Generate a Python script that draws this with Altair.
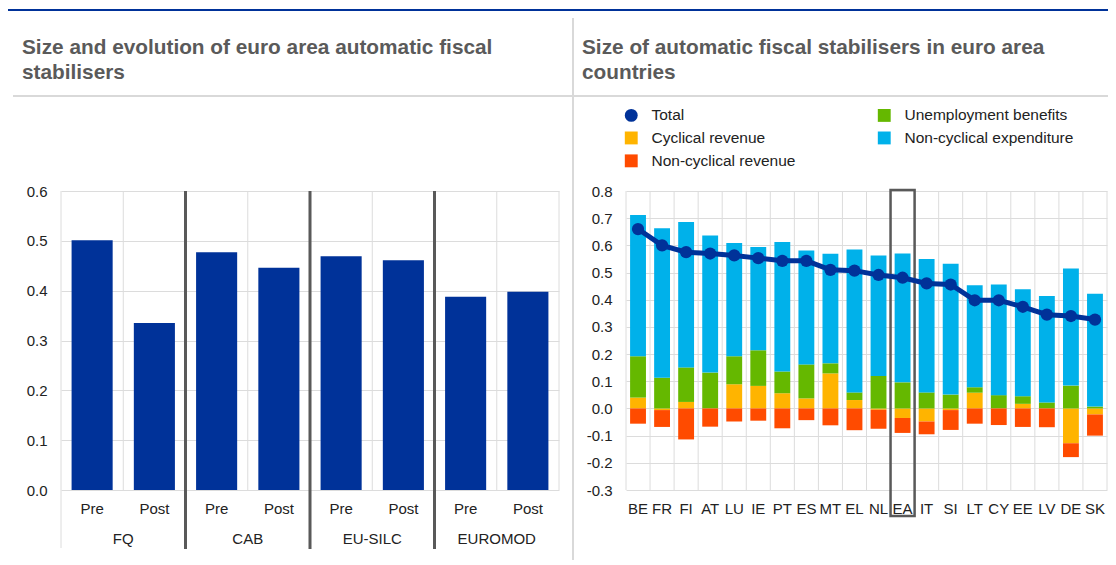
import altair as alt
import pandas as pd

# ---------------- data: left panel ----------------
methods = ["FQ", "CAB", "EU-SILC", "EUROMOD"]
phases = ["Pre", "Post"]
pre_values = [0.501, 0.477, 0.469, 0.388]
post_values = [0.335, 0.446, 0.461, 0.398]

# ---------------- data: right panel ----------------
countries = ["BE", "FR", "FI", "AT", "LU", "IE", "PT", "ES", "MT", "EL",
             "NL", "EA", "IT", "SI", "LT", "CY", "EE", "LV", "DE", "SK"]
total = [0.660, 0.600, 0.575, 0.570, 0.563, 0.553, 0.543, 0.543, 0.510, 0.507,
         0.491, 0.481, 0.460, 0.456, 0.398, 0.398, 0.374, 0.345, 0.340, 0.327]
cyclical_revenue = [0.040, -0.006, 0.024, 0.000, 0.089, 0.083, 0.056, 0.037, 0.129, 0.031,
                    -0.005, -0.035, -0.048, -0.006, 0.058, 0.000, 0.017, 0.000, -0.128, -0.022]
unemployment_benefits = [0.152, 0.113, 0.127, 0.132, 0.103, 0.131, 0.080, 0.125, 0.037, 0.028,
                         0.119, 0.096, 0.059, 0.051, 0.020, 0.049, 0.028, 0.022, 0.084, 0.007]
noncyclical_expenditure = [0.520, 0.550, 0.535, 0.504, 0.417, 0.380, 0.476, 0.419, 0.403, 0.526,
                           0.444, 0.474, 0.491, 0.481, 0.375, 0.407, 0.394, 0.392, 0.431, 0.415]
noncyclical_revenue = [-0.056, -0.062, -0.114, -0.067, -0.048, -0.045, -0.073, -0.043, -0.062, -0.080,
                       -0.070, -0.055, -0.047, -0.073, -0.056, -0.061, -0.068, -0.069, -0.051, -0.078]

# legend order (column-major, three rows)
series_names = ["Total", "Cyclical revenue", "Non-cyclical revenue",
                "Unemployment benefits", "Non-cyclical expenditure"]
series_colors = ["#003299", "#FFB400", "#FF4B00", "#65B800", "#00B1EA"]
series_shapes = ["circle", "square", "square", "square", "square"]

left_title = ["Size and evolution of euro area automatic fiscal", "stabilisers"]
right_title = ["Size of automatic fiscal stabilisers in euro area", "countries"]

left_ticks = [0.0, 0.1, 0.2, 0.3, 0.4, 0.5, 0.6]
right_ticks = [-0.3, -0.2, -0.1, 0.0, 0.1, 0.2, 0.3, 0.4, 0.5, 0.6, 0.7, 0.8]

# ---------------- styles ----------------
BLUE = "#003299"
GRID = "#dcdcdc"
SEP = "#d9d9d9"
DARK = "#595959"
TXT = "#222222"
TITLE = "#5a5a5a"
FONT = "Liberation Sans"
H = 299

# ---------------- tables ----------------
left_keys = [f"{m}|{p}" for m in methods for p in phases]
left_vals = [v for pair in zip(pre_values, post_values) for v in pair]
df_left = pd.DataFrame({"key": left_keys, "value": left_vals})
df_groups = pd.DataFrame({"method": methods, "key": [f"{m}|Pre" for m in methods]})
df_lgrid = pd.DataFrame({"key": left_keys})

components = [("Cyclical revenue", cyclical_revenue),
              ("Unemployment benefits", unemployment_benefits),
              ("Non-cyclical expenditure", noncyclical_expenditure),
              ("Non-cyclical revenue", noncyclical_revenue)]
rows = []
for order, (name, vals) in enumerate(components):
    for c, v in zip(countries, vals):
        rows.append({"country": c, "series": name, "value": v, "ord": order})
df_stack = pd.DataFrame(rows)
df_total = pd.DataFrame({"country": countries, "value": total, "series": "Total"})
df_rgrid = pd.DataFrame({"country": countries})
df_box = pd.DataFrame({"country": ["EA"]})
one = pd.DataFrame({"k": [0]})

# ---------------- scales / axes ----------------
xsL = alt.Scale(type="band", domain=left_keys, paddingInner=0, paddingOuter=0)
ysL = alt.Scale(domain=[0, 0.6], nice=False, zero=False)
xsR = alt.Scale(type="band", domain=countries, paddingInner=0, paddingOuter=0)
ysR = alt.Scale(domain=[-0.3, 0.8], nice=False, zero=False)
cscale = alt.Scale(domain=series_names, range=series_colors)
sscale = alt.Scale(domain=series_names, range=series_shapes)

# one axis object per channel, shared by every layer that uses the channel
axLx = alt.Axis(orient="bottom", title=None, labelExpr="split(datum.label, '|')[1]",
                labelAngle=0, labelFontSize=15, labelColor=TXT, labelPadding=11,
                ticks=False, domain=False, grid=False)
axLy = alt.Axis(orient="left", title=None, values=left_ticks, format=".1f",
                labelFontSize=15, labelColor=TXT, labelPadding=14, ticks=False,
                domain=False, grid=True, gridColor=GRID)
axRx = alt.Axis(orient="bottom", title=None, labelAngle=0, labelFontSize=15, labelColor=TXT,
                labelPadding=11, ticks=False, domain=False, grid=False)
axRy = alt.Axis(orient="left", title=None, values=right_ticks, format=".1f",
                labelFontSize=15, labelColor=TXT, labelPadding=14, ticks=False,
                domain=False, grid=True, gridColor=GRID)

leg = alt.Legend(orient="none", legendX=562.5, legendY=-83.7, columns=2, title=None,
                 labelFontSize=15.5, labelColor=TXT, labelFont=FONT, symbolSize=166,
                 symbolStrokeWidth=0, symbolOpacity=1, rowPadding=5.9, columnPadding=81,
                 labelOffset=12.5, padding=0, labelLimit=400)


def band_rect(color, x0, x1, y0, y1):
    return alt.Chart(one).mark_rect(color=color).encode(
        x=alt.value(x0), x2=alt.value(x1), y=alt.value(y0), y2=alt.value(y1))


def title_lines(lines, x0):
    marks = []
    for i, line in enumerate(lines):
        marks.append(alt.Chart(one).mark_text(
            align="left", baseline="alphabetic", fontSize=20.8, fontWeight="bold",
            color=TITLE, font=FONT).encode(
            x=alt.value(x0), y=alt.value(-137 + 24.5 * i), text=alt.value(line)))
    return marks


def vgrid(df, field, scale, axis):
    start = alt.Chart(df).mark_rule(color=GRID, strokeWidth=1).encode(
        x=alt.X(f"{field}:N", scale=scale, axis=axis, bandPosition=0),
        y=alt.value(0), y2=alt.value(H))
    end = alt.Chart(df.tail(1)).mark_rule(color=GRID, strokeWidth=1).encode(
        x=alt.X(f"{field}:N", scale=scale, axis=axis, bandPosition=1),
        y=alt.value(0), y2=alt.value(H))
    return [start, end]


# ---------------- left panel ----------------
lbars = alt.Chart(df_left).mark_bar(color=BLUE, width=alt.RelativeBandSize(0.66)).encode(
    x=alt.X("key:N", scale=xsL, axis=axLx),
    y=alt.Y("value:Q", scale=ysL, axis=axLy))
lseps = alt.Chart(df_groups.iloc[1:]).mark_rule(color=DARK, strokeWidth=3).encode(
    x=alt.X("key:N", scale=xsL, axis=axLx, bandPosition=0),
    y=alt.value(0), y2=alt.value(358))
ledge = alt.Chart(one).mark_rule(color=GRID, strokeWidth=1).encode(
    x=alt.value(0), y=alt.value(H), y2=alt.value(357))
lglabels = alt.Chart(df_groups).mark_text(fontSize=15, color=TXT, baseline="alphabetic",
                                          font=FONT).encode(
    x=alt.X("key:N", scale=xsL, axis=axLx, bandPosition=1),
    y=alt.value(353.3), text="method:N")
left = alt.layer(
    band_rect(BLUE, -53, 520, -182, -180),
    band_rect(SEP, -48, 520, -96, -94),
    *title_lines(left_title, -39),
    *vgrid(df_lgrid, "key", xsL, axLx),
    lbars, lseps, ledge, lglabels,
).properties(width=498, height=H)

# ---------------- right panel ----------------
rbars = alt.Chart(df_stack).mark_bar(width=alt.RelativeBandSize(0.66)).encode(
    x=alt.X("country:N", scale=xsR, axis=axRx),
    y=alt.Y("value:Q", scale=ysR, axis=axRy, stack="zero"),
    color=alt.Color("series:N", scale=cscale, legend=leg),
    order=alt.Order("ord:Q"))
rbox = alt.Chart(df_box).mark_rect(filled=False, color=DARK, strokeWidth=2.5).encode(
    x=alt.X("country:N", scale=xsR, axis=axRx),
    y=alt.value(-1), y2=alt.value(325))
rline = alt.Chart(df_total).mark_line(color=BLUE, strokeWidth=5).encode(
    x=alt.X("country:N", scale=xsR, axis=axRx),
    y=alt.Y("value:Q", scale=ysR, axis=axRy))
rpoints = alt.Chart(df_total).mark_point(filled=True, size=150, opacity=1, strokeWidth=0).encode(
    x=alt.X("country:N", scale=xsR, axis=axRx),
    y=alt.Y("value:Q", scale=ysR, axis=axRy),
    color=alt.Color("series:N", scale=cscale, legend=leg),
    shape=alt.Shape("series:N", scale=sscale, legend=leg))
right = alt.layer(
    band_rect(BLUE, -60, 482, -182, -180),
    band_rect(SEP, -60, 482, -96, -94),
    band_rect(SEP, -54, -52, -173, 369),
    *title_lines(right_title, -44),
    *vgrid(df_rgrid, "country", xsR, axRx),
    rbars, rbox, rline, rpoints,
).properties(width=481, height=H)

chart = alt.hconcat(left, right, spacing=67, bounds="flush").properties(
    padding={"left": 0, "top": 1, "right": 0, "bottom": 0}
).configure(
    font=FONT,
    locale=alt.Locale(number=alt.NumberLocale(decimal=".", thousands=",", grouping=[3],
                                              currency=["", ""], minus="-")),
).configure_view(stroke=None).configure_axis(labelFont=FONT)

chart.save("out.html", embed_options={"renderer": "svg", "actions": False})
